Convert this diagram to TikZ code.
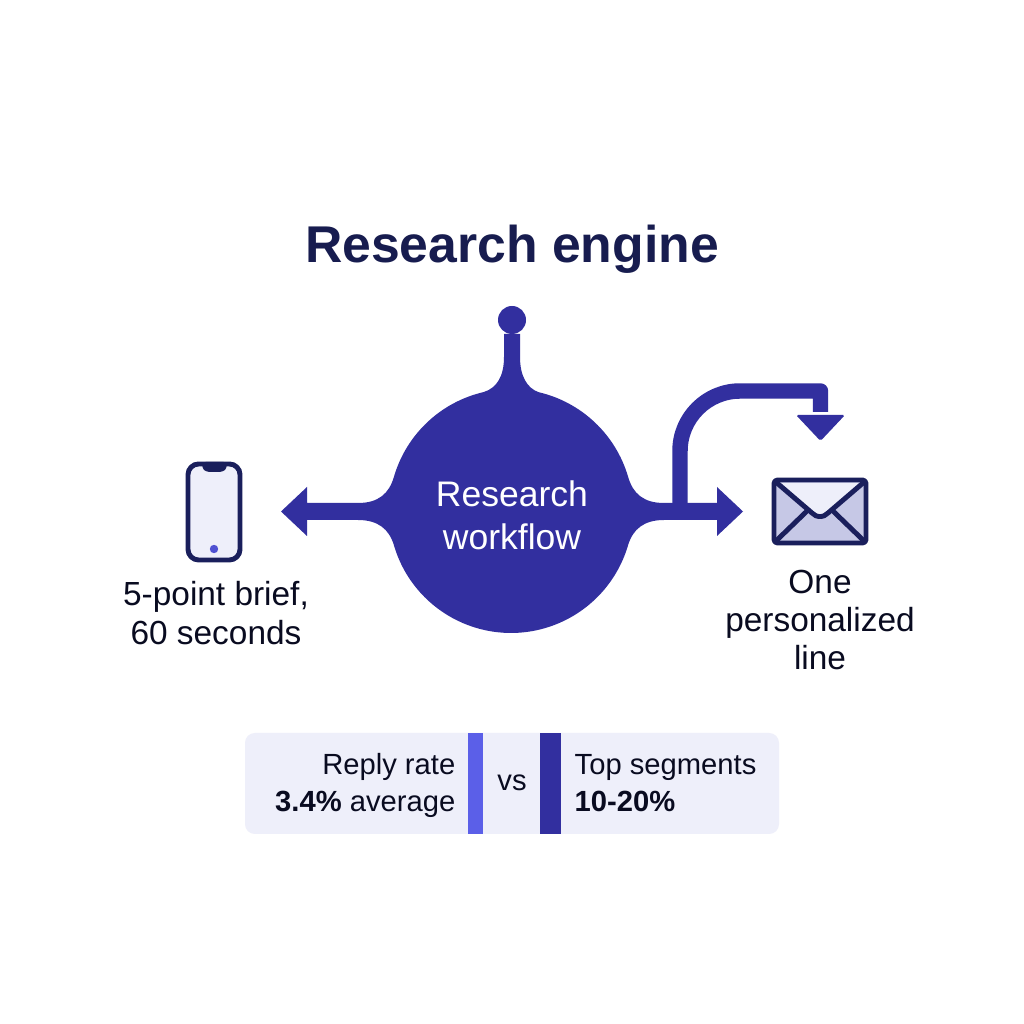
\documentclass[tikz,border=0pt]{standalone}
\usepackage{fontspec}
\setmainfont{Liberation Sans}
\definecolor{blobblue}{HTML}{322F9F}
\definecolor{inkblue}{HTML}{1A1F5C}
\definecolor{titleblue}{HTML}{171C4F}
\definecolor{paleblue}{HTML}{EEEFFA}
\definecolor{flapblue}{HTML}{C6C8E6}
\definecolor{brightblue}{HTML}{5B5FE8}
\tikzstyle{lbl}=[inner sep=0pt, align=center, text=titleblue!40!black, font=\fontsize{9.5pt}{10.9pt}\selectfont]
\tikzstyle{rowlbl}=[inner sep=0pt, text=titleblue!40!black, font=\fontsize{8.3pt}{10pt}\selectfont]
\tikzstyle{icon}=[draw=inkblue, line width=1.4pt, line join=round]
\newcommand{\lbl}{\node[lbl]}
\newcommand{\rowlbl}{\node[rowlbl]}

\begin{document}
\begin{tikzpicture}[x=0.01cm, y=0.01cm]
\useasboundingbox (0,0) rectangle (1024,1024);
\fill[white] (0,0) rectangle (1024,1024);

\node[inner sep=0pt, text=titleblue, font=\fontsize{14.7pt}{17pt}\selectfont\bfseries] (title) at (512,775) {Research engine};

% blob with stems
\fill[blobblue] (504,667)
    .. controls (504,648) and (497,636) .. (483.6,631.9)
    arc (103:163.7:122)
    .. controls (389,530) and (378,521) .. (358,521)
    -- (307,521) -- (307,537) -- (281,512.5) -- (307,488) -- (307,504) -- (358,504)
    .. controls (378,504) and (389,495) .. (393.9,478.8)
    arc (196.3:343.7:122)
    .. controls (633,495) and (644,504) .. (664,504)
    -- (717,504) -- (717,488) -- (743,512.5) -- (717,537) -- (717,521) -- (664,521)
    .. controls (644,521) and (633,530) .. (628.1,547.2)
    arc (16.3:77:122)
    .. controls (527,636) and (520,648) .. (520,667)
    -- (520,690) -- (504,690) -- cycle;
\fill[blobblue] (512,704) circle (14);
\node[lbl, text=white, font=\fontsize{10.1pt}{12.2pt}\selectfont] (workflow) at (512,509) {Research\\workflow};

% curved arrow
\coordinate (bend) at (680,515);
\coordinate (drop) at (820.5,612);
\draw[blobblue, line width=4.4pt, line join=round] (bend) -- (680,573) arc (180:90:60) -- (820.5,633) -- (drop);
\fill[blobblue, rounded corners=0.5pt] (796,609) -- (845,609) -- (820.5,583) -- cycle;

% phone
\draw[icon, fill=paleblue, rounded corners=3pt] (188,560) rectangle (240,464);
\fill[inkblue, rounded corners=1pt] (202,562) -- (202,556) -- (206,552) -- (223,552) -- (227,556) -- (227,562) -- cycle;
\fill[brightblue!70!blobblue] (214,475) circle (4.2);
\lbl (brief) at (216,411) {5-point brief,\\60 seconds};

% envelope
\draw[icon, fill=flapblue, rounded corners=1pt] (774,544) rectangle (866,481);
\fill[paleblue] (777,541) -- (812,511) -- (820,504) -- (828,511) -- (863,541) -- cycle;
\draw[icon, line cap=round] (777,541) -- (812,511) .. controls (817,506) and (823,506) .. (828,511) -- (863,541);
\draw[icon, line cap=round] (777,484) -- (806,512);
\draw[icon, line cap=round] (863,484) -- (834,512);
\lbl (line) at (820,404) {One\\personalized\\line};

% bottom panel
\fill[paleblue, rounded corners=2.8pt] (245,190) rectangle (779,291);
\fill[brightblue] (468,190) rectangle (483,291);
\fill[blobblue] (540,190) rectangle (561,291);
\rowlbl[anchor=base east] (reply) at (456,249) {Reply rate};
\rowlbl[anchor=base east] (average) at (456,212) {\textbf{3.4\%} average};
\rowlbl[anchor=base] (vs) at (512,233) {vs};
\rowlbl[anchor=base west] (top) at (574,249) {Top segments};
\rowlbl[anchor=base west] (range) at (574,212) {\textbf{10-20\%}};
\end{tikzpicture}
\end{document}
